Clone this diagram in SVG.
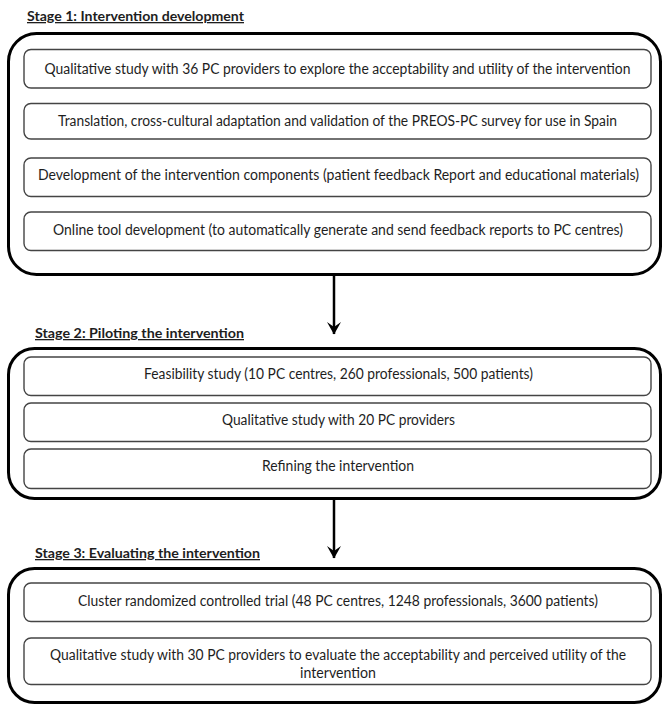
<svg xmlns="http://www.w3.org/2000/svg" width="663" height="705" viewBox="0 0 663 705">
<style>
.stage{fill:#fff;stroke:#000;stroke-width:3}
.box{fill:#fff;stroke:#444;stroke-width:1.4}
.t{font-family:Lato,"Liberation Sans",sans-serif;font-size:14.5px;fill:#1e1e1e;text-anchor:middle}
.h{font-family:Lato,"Liberation Sans",sans-serif;font-size:13px;font-weight:bold;fill:#1e1e1e;text-decoration:underline}
.conn{stroke:#000;stroke-width:2.5;fill:none}
</style>
<defs>
<marker id="ah" viewBox="0 0 14 14" refX="13" refY="7" markerWidth="14" markerHeight="14" markerUnits="userSpaceOnUse" orient="auto">
<path d="M1,0 L13.5,7 L1,14 L6,7 Z" fill="#000"/>
</marker>
</defs>
<rect width="663" height="705" fill="#fff"/>

<g id="stage1">
<text class="h" x="27" y="21" textLength="217" lengthAdjust="spacingAndGlyphs">Stage 1: Intervention development</text>
<rect class="stage" x="8.5" y="33.5" width="652" height="241" rx="28"/>
<g id="s1-qual36"><rect class="box" x="24" y="49.5" width="627" height="38.5" rx="7"/>
<text class="t" x="337.5" y="73.5" textLength="586" lengthAdjust="spacingAndGlyphs">Qualitative study with 36 PC providers to explore the acceptability and utility of the intervention</text></g>
<g id="s1-translation"><rect class="box" x="24" y="103.5" width="627" height="35.5" rx="7"/>
<text class="t" x="337.5" y="125.5" textLength="559" lengthAdjust="spacingAndGlyphs">Translation, cross-cultural adaptation and validation of the PREOS-PC survey for use in Spain</text></g>
<g id="s1-components"><rect class="box" x="24" y="158" width="627" height="38.5" rx="7"/>
<text class="t" x="338.5" y="179.5" textLength="601" lengthAdjust="spacingAndGlyphs">Development of the intervention components (patient feedback Report and educational materials)</text></g>
<g id="s1-online"><rect class="box" x="24" y="212" width="627" height="38.5" rx="7"/>
<text class="t" x="338" y="234.5" textLength="570" lengthAdjust="spacingAndGlyphs">Online tool development (to automatically generate and send feedback reports to PC centres)</text></g>
</g>

<g id="stage2">
<text class="h" x="35" y="338" textLength="209" lengthAdjust="spacingAndGlyphs">Stage 2: Piloting the intervention </text>
<rect class="stage" x="8.5" y="348.5" width="652" height="150" rx="26"/>
<g id="s2-feasibility"><rect class="box" x="24" y="357" width="627" height="38.5" rx="7"/>
<text class="t" x="338.5" y="378.5" textLength="389" lengthAdjust="spacingAndGlyphs">Feasibility study (10 PC centres, 260 professionals, 500 patients)</text></g>
<g id="s2-qual20"><rect class="box" x="24" y="403" width="627" height="38.5" rx="7"/>
<text class="t" x="338.5" y="424.5" textLength="233" lengthAdjust="spacingAndGlyphs">Qualitative study with 20 PC providers</text></g>
<g id="s2-refining"><rect class="box" x="24" y="449" width="627" height="39.5" rx="7"/>
<text class="t" x="338" y="470.5" textLength="152" lengthAdjust="spacingAndGlyphs">Refining the intervention</text></g>
</g>

<g id="stage3">
<text class="h" x="35" y="558" textLength="225" lengthAdjust="spacingAndGlyphs">Stage 3: Evaluating the intervention </text>
<rect class="stage" x="8.5" y="568.5" width="652" height="134" rx="26"/>
<g id="s3-trial"><rect class="box" x="24" y="583" width="627" height="38.5" rx="7"/>
<text class="t" x="338" y="605.5" textLength="520" lengthAdjust="spacingAndGlyphs">Cluster randomized controlled trial (48 PC centres, 1248 professionals, 3600 patients)</text></g>
<g id="s3-qual30"><rect class="box" x="24" y="638" width="627" height="46.5" rx="7"/>
<text class="t" x="338" y="659.5" textLength="576" lengthAdjust="spacingAndGlyphs">Qualitative study with 30 PC providers to evaluate the acceptability and perceived utility of the</text>
<text class="t" x="338" y="677.5" textLength="76" lengthAdjust="spacingAndGlyphs">intervention</text></g>
</g>

<g id="connectors">
<line class="conn" x1="334" y1="276" x2="334" y2="334" marker-end="url(#ah)"/>
<line class="conn" x1="334" y1="500" x2="334" y2="558" marker-end="url(#ah)"/>
</g>
</svg>
